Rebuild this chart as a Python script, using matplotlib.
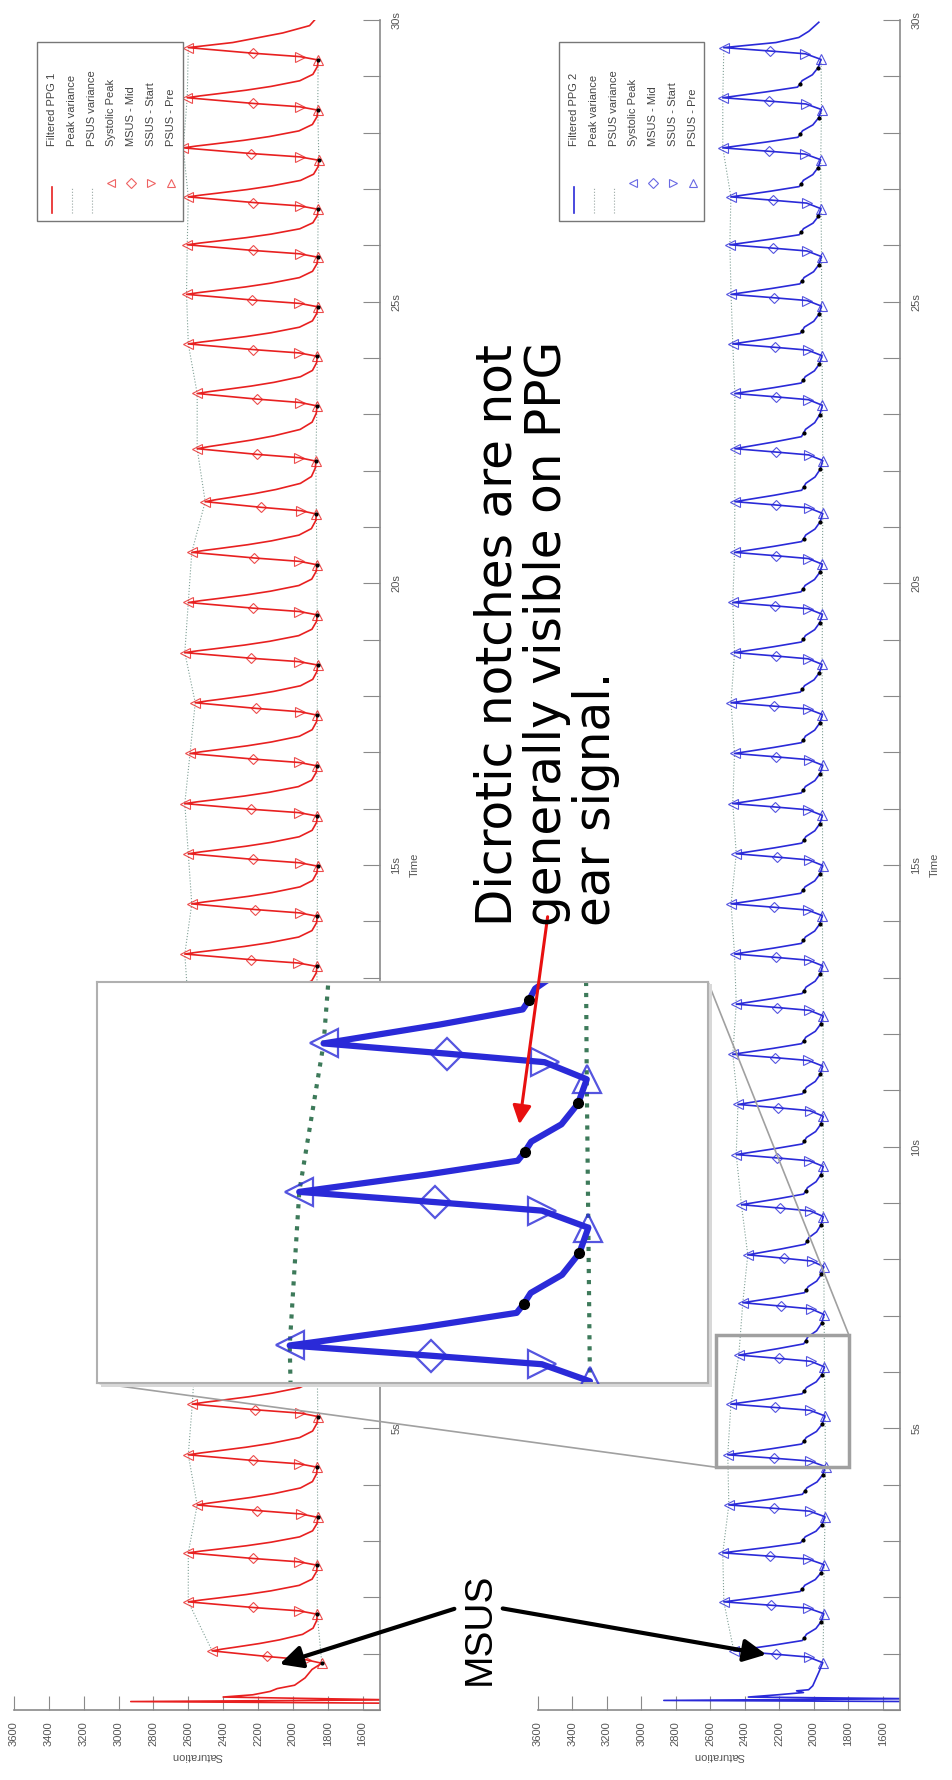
import numpy as np
import matplotlib.pyplot as plt
from matplotlib.patches import Rectangle, FancyArrowPatch, ConnectionPatch
from matplotlib.lines import Line2D

plt.rcParams['font.family'] = ['Liberation Sans', 'DejaVu Sans']

W, H = 952, 1780

# systolic peak times (s), both channels beat together
peak_t = [1.05, 1.92, 2.79, 3.64, 4.53, 5.43, 6.30, 7.23, 8.08, 8.97, 9.86,
          10.75, 11.64, 12.53, 13.42, 14.31, 15.20, 16.09, 16.98, 17.88, 18.77,
          19.66, 20.55, 21.45, 22.39, 23.37, 24.25, 25.13, 26.01, 26.86, 27.73,
          28.62, 29.51]

# PPG 1 (red): systolic peak and pre-upstroke (PSUS) levels per beat
red_peak = [2463, 2600, 2600, 2549, 2600, 2577, 2560, 2540, 2600, 2580, 2620,
            2600, 2560, 2600, 2620, 2580, 2600, 2620, 2590, 2560, 2620, 2600,
            2580, 2503, 2549, 2549, 2600, 2610, 2606, 2600, 2629, 2606, 2600]
red_psus = [1834, 1860, 1860, 1857, 1860, 1857, 1860, 1862, 1858, 1860, 1862,
            1860, 1858, 1860, 1862, 1860, 1858, 1860, 1862, 1860, 1858, 1860,
            1862, 1865, 1868, 1862, 1860, 1858, 1857, 1855, 1851, 1857, 1855]

# PPG 2 (blue)
blue_peak = [2464, 2522, 2528, 2493, 2499, 2481, 2435, 2412, 2383, 2420, 2450,
             2440, 2470, 2450, 2460, 2480, 2450, 2470, 2460, 2480, 2460, 2470,
             2460, 2458, 2458, 2458, 2470, 2480, 2487, 2481, 2528, 2528, 2522]
blue_psus = [1948, 1942, 1940, 1935, 1932, 1935, 1938, 1940, 1942, 1945, 1945,
             1945, 1948, 1945, 1948, 1950, 1948, 1950, 1948, 1950, 1952, 1950,
             1950, 1948, 1948, 1950, 1952, 1955, 1955, 1958, 1960, 1955, 1958]

# filter start-up transient before the first beat (t, saturation)
red_start_t = [0.00, 0.12, 0.15, 0.18, 0.23, 0.27, 0.33, 0.38, 0.44, 0.57, 0.72]
red_start_v = [1400, 1420, 2930, 1420, 2400, 2230, 2130, 2090, 1990, 1930, 1890]
blue_start_t = [0.00, 0.15, 0.17, 0.20, 0.23, 0.27, 0.31, 0.34, 0.36, 0.43, 0.67]
blue_start_v = [1400, 1420, 2870, 1420, 2380, 2210, 2060, 2100, 2030, 2006, 1971]

# decay after the last peak, up to the end of the record
red_end_t = [29.60, 29.77, 29.90, 30.00]
red_end_v = [2345, 2058, 1904, 1875]
blue_end_t = [29.60, 29.69, 29.80, 29.96]
blue_end_v = [2220, 2087, 2029, 1971]

# beat shape: upstroke offsets before the peak (PSUS, SSUS, MSUS, peak)
red_up_dt = [-0.22, -0.16, -0.10, 0.0]
red_up_f = [0.0, 0.14, 0.50, 1.0]
blue_up_dt = [-0.21, -0.11, -0.06, 0.0]
blue_up_f = [0.0, 0.16, 0.53, 1.0]
# decay from the peak to the next PSUS (fraction of the interval, level fraction)
red_dec_s = [0.05, 0.10, 0.20, 0.30, 0.45, 0.62, 0.83]
red_dec_f = [0.90, 0.78, 0.55, 0.36, 0.14, 0.04, 0.005]
blue_dec_s = [0.154, 0.277, 0.354, 0.446, 0.60, 0.785]
blue_dec_f = [0.556, 0.24, 0.216, 0.193, 0.088, 0.03]
blue_notch_idx = [2, 5]

sat_ticks = list(range(1600, 3601, 200))
time_ticks = list(range(0, 31))


def build_signal(peak, psus, up_dt, up_f, dec_s, dec_f, st_t, st_v, en_t, en_v):
    t_pts, v_pts = list(st_t), list(st_v)
    marks = {'pre': [], 'start': [], 'mid': [], 'peak': [], 'notch': []}
    n = len(peak_t)
    for i in range(n):
        amp = peak[i] - psus[i]
        up = [(peak_t[i] + dt, psus[i] + f * amp) for dt, f in zip(up_dt, up_f)]
        for key, p in zip(['pre', 'start', 'mid', 'peak'], up):
            marks[key].append(p)
        for p in up:
            t_pts.append(p[0])
            v_pts.append(p[1])
        if i + 1 < n:
            t_next = peak_t[i + 1] + up_dt[0]
            dur = t_next - peak_t[i]
            for k, (s, f) in enumerate(zip(dec_s, dec_f)):
                tt = peak_t[i] + s * dur
                vv = psus[i + 1] + f * (peak[i] - psus[i + 1])
                t_pts.append(tt)
                v_pts.append(vv)
                marks['notch'].append((k, tt, vv))
    t_pts += en_t
    v_pts += en_v
    return np.array(t_pts), np.array(v_pts), marks


red_t, red_v, red_m = build_signal(red_peak, red_psus, red_up_dt, red_up_f,
                                   red_dec_s, red_dec_f, red_start_t, red_start_v,
                                   red_end_t, red_end_v)
blue_t, blue_v, blue_m = build_signal(blue_peak, blue_psus, blue_up_dt, blue_up_f,
                                      blue_dec_s, blue_dec_f, blue_start_t,
                                      blue_start_v, blue_end_t, blue_end_v)

fig = plt.figure(figsize=(W / 100, H / 100), dpi=100)


def px_axes(x0, x1, y0, y1):
    return fig.add_axes([x0 / W, 1 - y1 / H, (x1 - x0) / W, (y1 - y0) / H])


def fx(x):
    return x / W


def fy(y):
    return 1 - y / H


grid_col = '#8a8a8a'
var_col = '#7f9f95'


def draw_panel(ax, t, v, m, color, notch_keys, ms=7, lw=1.2, mew=0.8,
               var_lw=0.8, notch_ms=2.0, var_color=var_col):
    pk = np.array(m['peak'])
    pre = np.array(m['pre'])
    ax.plot(pk[:, 1], pk[:, 0], ':', color=var_color, lw=var_lw, zorder=1)
    ax.plot(pre[:, 1], pre[:, 0], ':', color=var_color, lw=var_lw, zorder=1)
    ax.plot(v, t, '-', color=color, lw=lw, zorder=2)
    st = np.array(m['start'])
    md = np.array(m['mid'])
    kw = dict(ls='none', mfc='none', mec=color, mew=mew, ms=ms, zorder=3, alpha=0.8)
    ax.plot(pk[:, 1], pk[:, 0], '<', **kw)
    ax.plot(md[:, 1], md[:, 0], 'D', **dict(kw, ms=ms * 0.8))
    ax.plot(st[:, 1], st[:, 0], '>', **kw)
    ax.plot(pre[:, 1], pre[:, 0], '^', **kw)
    if notch_keys is None:
        ax.plot(pre[:, 1], pre[:, 0], 'o', color='k', ms=notch_ms, zorder=4)
    else:
        nt = [(tt, vv) for k, tt, vv in m['notch'] if k in notch_keys]
        nt = np.array(nt)
        ax.plot(nt[:, 1], nt[:, 0], 'o', color='k', ms=notch_ms, zorder=4)


def style_axes(ax):
    ax.set_xlim(3600, 1500)
    ax.set_ylim(0, 30)
    for s in ['top', 'left']:
        ax.spines[s].set_visible(False)
    for s in ['right', 'bottom']:
        ax.spines[s].set_color(grid_col)
        ax.spines[s].set_linewidth(1.2)
    ax.yaxis.tick_right()
    ax.yaxis.set_label_position('right')
    ax.set_xticks(sat_ticks)
    ax.set_xticklabels([str(s) for s in sat_ticks], rotation=90)
    ax.set_yticks(time_ticks)
    ax.set_yticklabels([f'{s}s' if s % 5 == 0 and s > 0 else '' for s in time_ticks],
                       rotation=90, va='center')
    ax.tick_params(axis='x', direction='in', length=10, color=grid_col,
                   labelcolor='#555555', labelsize=8, pad=8)
    ax.tick_params(axis='y', direction='in', length=12, color=grid_col,
                   labelcolor='#555555', labelsize=8, pad=8)
    ax.set_xlabel('Saturation', rotation=180, fontsize=8, color='#555555', labelpad=4)
    ax.set_ylabel('Time', rotation=90, fontsize=8, color='#555555', labelpad=6)
    ax.patch.set_alpha(0)


red = '#e82020'
blue = '#2a2ad8'

ax1 = px_axes(14, 380, 20, 1710)
draw_panel(ax1, red_t, red_v, red_m, red, None)
style_axes(ax1)

ax2 = px_axes(538, 900, 20, 1710)
draw_panel(ax2, blue_t, blue_v, blue_m, blue, blue_notch_idx)
style_axes(ax2)


def draw_legend(x0, x1, y0, y1, color, name):
    fig.add_artist(Rectangle((fx(x0), fy(y1)), (x1 - x0) / W, (y1 - y0) / H,
                             transform=fig.transFigure, fc='white', ec='#777777',
                             lw=1.0, zorder=5))
    labels = [name, 'Peak variance', 'PSUS variance', 'Systolic Peak',
              'MSUS - Mid', 'SSUS - Start', 'PSUS - Pre']
    markers = [None, None, None, '<', 'D', '>', '^']
    for i, (lab, mk) in enumerate(zip(labels, markers)):
        cx = x0 + 15 + i * 19.8
        fig.text(fx(cx), fy(y0 + 104), lab, rotation=90, ha='center', va='bottom',
                 fontsize=8, color='#444444', zorder=6)
        if i == 0:
            fig.add_artist(Line2D([fx(cx), fx(cx)], [fy(y1 - 8), fy(y1 - 34)],
                                  transform=fig.transFigure, color=color, lw=1.2,
                                  zorder=6))
        elif mk is None:
            fig.add_artist(Line2D([fx(cx), fx(cx)], [fy(y1 - 8), fy(y1 - 34)],
                                  transform=fig.transFigure, color='#9aa8a4',
                                  lw=0.8, ls=':', zorder=6))
        else:
            fig.add_artist(Line2D([fx(cx)], [fy(y1 - 38)], transform=fig.transFigure,
                                  ls='none', marker=mk, ms=6 if mk != 'D' else 5,
                                  mfc='none', mec=color, mew=0.8, alpha=0.7,
                                  zorder=6))


draw_legend(37, 183, 42, 221, red, 'Filtered PPG 1')
draw_legend(559, 704, 42, 221, blue, 'Filtered PPG 2')

# magnified view of a few blue beats
zoom_sat = (1797, 2568)
zoom_t = (4.31, 6.66)
ax2.add_patch(Rectangle((zoom_sat[0], zoom_t[0]), zoom_sat[1] - zoom_sat[0],
                        zoom_t[1] - zoom_t[0], fill=False, ec='#a0a0a0', lw=2.5,
                        zorder=5))

fig.add_artist(Rectangle((fx(101), fy(1387)), 611 / W, 403 / H,
                         transform=fig.transFigure, fc='#d8d8d8', ec='none',
                         zorder=7))
axz = px_axes(97, 708, 982, 1383)
axz.set_zorder(8)
draw_panel(axz, blue_t, blue_v, blue_m, blue, blue_notch_idx, ms=20, lw=4.5,
           mew=1.6, var_lw=3.0, notch_ms=7, var_color='#3d7a5a')
axz.set_xlim(2863, 1709)
axz.set_ylim(zoom_t)
axz.set_xticks([])
axz.set_yticks([])
for s in axz.spines.values():
    s.set_color('#b0b0b0')
    s.set_linewidth(1.5)

for a, b in [((1, 1), (zoom_sat[0], zoom_t[1])), ((0, 0), (zoom_sat[1], zoom_t[0]))]:
    con = ConnectionPatch(xyA=a, coordsA=axz.transAxes, xyB=b, coordsB=ax2.transData,
                          color='#a0a0a0', lw=1.2, zorder=6)
    fig.add_artist(con)

# annotations
fig.text(fx(474), fy(926), 'Dicrotic notches are not\ngenerally visible on PPG\near signal.',
         rotation=90, ha='left', va='bottom', fontsize=35, linespacing=1.03,
         family=['DejaVu Sans'], color='black', zorder=10)
fig.add_artist(FancyArrowPatch((fx(548), fy(914)), (fx(519), fy(1127)),
                               transform=fig.transFigure, arrowstyle='-|>',
                               mutation_scale=28, lw=2.2, color='#e81010', zorder=10))

fig.text(fx(462), fy(1685), 'MSUS', rotation=90, ha='left', va='bottom', fontsize=28,
         color='black', zorder=10)
for tail, head in [((457, 1608), (277, 1665)), ((500, 1608), (769, 1655))]:
    fig.add_artist(FancyArrowPatch((fx(tail[0]), fy(tail[1])), (fx(head[0]), fy(head[1])),
                                   transform=fig.transFigure, arrowstyle='-|>',
                                   mutation_scale=34, lw=3.0, color='black', zorder=10))

fig.savefig('out.png', dpi=100)
